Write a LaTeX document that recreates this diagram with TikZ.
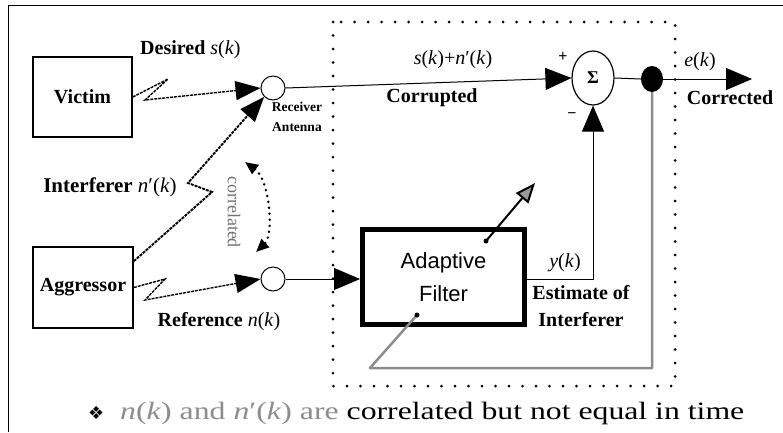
\documentclass[tikz,border=0pt]{standalone}
\usepackage{fontspec}
\setmainfont{Liberation Serif}
\newfontfamily\sansf{Liberation Sans}
\newfontfamily\symf{DejaVu Sans}
\newfontfamily\capf[FakeStretch=1.27]{Liberation Serif}
\usetikzlibrary{arrows.meta,shapes.geometric,calc}
\begin{document}
\begin{tikzpicture}[x=1pt,y=-1pt,
  lbl/.style={font=\fontsize{20}{22}\selectfont\bfseries, inner sep=0pt},
  mlbl/.style={font=\fontsize{20}{22}\selectfont, inner sep=0pt},
  blk/.style={draw, line width=1.6pt, inner sep=0pt, font=\fontsize{20}{22}\selectfont\bfseries},
  ant/.style={draw, circle, minimum size=24pt, inner sep=0pt, line width=1pt, fill=white},
  bigtip/.style={-{Triangle[length=26pt,width=22pt]}},
  zap/.style={line width=1.4pt, dash pattern=on 3pt off 1pt, -{Triangle[length=25pt,width=19pt]}},
  sigline/.style={line width=1pt},
  fb/.style={line width=2.5pt, draw=black!45, line join=round},
]
\useasboundingbox (0,0) rectangle (783,432);
\draw[line width=1pt] (8,432) -- (8,5) -- (783,5);

% dotted processing region
\draw[line width=3pt, dash pattern=on 0pt off 13.5pt, line cap=round] (333,22) rectangle (675,386);

% blocks
\node[blk, minimum width=99pt, minimum height=80pt] (vic) at (82.5,97) {Victim};
\node[blk, minimum width=100pt, minimum height=81pt] (aggr) at (83,287.5) {Aggressor};
\node[ant] (ra) at (273,88) {};
\node[ant] (rc) at (273,279) {};

% wireless paths
\draw[zap] (vic.east) -- (168,79) -- (145,100) -- (ra.west);
\draw[zap, line width=1.9pt] ($(aggr.north east)+(0,15)$) -- (212,192) -- (188,183) -- (ra.south west);
\draw[zap] (aggr.east) -- (165,279) -- (145,300) -- (rc.west);

\node[lbl, anchor=west] at (140,50) {Desired \mdseries\textit{s}(\textit{k})};
\node[lbl, font=\fontsize{21}{23}\selectfont\bfseries] at (110,187) {Interferer \mdseries\textit{n}′(\textit{k})};
\node[lbl] at (219,322) {Reference \mdseries\textit{n}(\textit{k})};
\node[font=\fontsize{13.5}{20}\selectfont\bfseries, align=center, inner sep=0pt] at (297,117) {Receiver\\Antenna};

% correlation arrow
\draw[line width=2.8pt, dash pattern=on 0pt off 6pt, line cap=round,
  {Triangle[length=13pt,width=11pt]}-{Triangle[length=13pt,width=11pt]}]
  (245,162) .. controls (270,180) and (274,235) .. (256,252);
\node[rotate=-90, font=\fontsize{18}{20}\selectfont, text=black!55, inner sep=0pt] at (234,212) {correlated};

% summing junction and output
\node[draw, ellipse, minimum width=42pt, minimum height=54pt, inner sep=0pt, line width=1.2pt,
  font=\fontsize{18}{20}\selectfont\bfseries] (sig) at (593,78) {Σ};
\node[fill, ellipse, minimum width=22pt, minimum height=26pt, inner sep=0pt] (dot) at (652,79) {};
\coordinate (out) at (752,79);
\draw[sigline, bigtip] (ra.east) -- (sig.west);
\draw[sigline] (sig.east) -- (dot.west);
\draw[sigline, bigtip] (dot.east) -- (out);
\node[font=\fontsize{16}{18}\selectfont\bfseries, inner sep=0pt] at (563,57) {+};
\node[font=\fontsize{16}{18}\selectfont\bfseries, inner sep=0pt] at (572,116) {−};
\node[mlbl] at (453,60) {\textit{s}(\textit{k})+\textit{n}′(\textit{k})};
\node[lbl] at (432,98) {Corrupted};
\node[mlbl] at (700,62) {\textit{e}(\textit{k})};
\node[lbl] at (730,98) {Corrected};

% adaptive filter
\node[draw, line width=5pt, minimum width=162pt, minimum height=95pt, fill=white, align=center,
  inner sep=0pt, font=\sansf\fontsize{22}{33}\selectfont] (filt) at (443.5,277) {Adaptive\\Filter};
\draw[sigline, bigtip] (rc.east) -- (rc.east -| filt.west);
\draw[sigline, bigtip] (filt.east |- rc.east) -- (sig.south |- rc.east) -- (sig.south);
\node[mlbl] at (565,263) {\textit{y}(\textit{k})};
\node[lbl, align=center, font=\fontsize{20}{27}\selectfont\bfseries] at (581,306) {Estimate of\\Interferer};

% feedback / adaptation
\coordinate (fbc) at (dot.south |- 0,368);
\coordinate (fbl) at (370,368);
\coordinate (adin) at (417,315);
\coordinate (adout) at (486,241);
\coordinate (adtip) at (535,183);
\draw[fb] (dot.south) -- (fbc) -- (fbl) -- (adin);
\fill (adin) circle (2.5pt);
\draw[line width=2pt, -{Triangle[length=20pt,width=16pt,fill=black!40]}] (adout) -- (adtip);
\fill (adout) circle (2.5pt);

% caption
\node[anchor=west, inner sep=0pt, font=\capf\fontsize{25}{27}\selectfont] at (88,413)
  {{\symf\fontsize{18}{20}\selectfont ❖}\ \ {\color{black!45}\textit{n}(\textit{k}) and \textit{n}′(\textit{k}) are} correlated but not equal in time};
\end{tikzpicture}
\end{document}
